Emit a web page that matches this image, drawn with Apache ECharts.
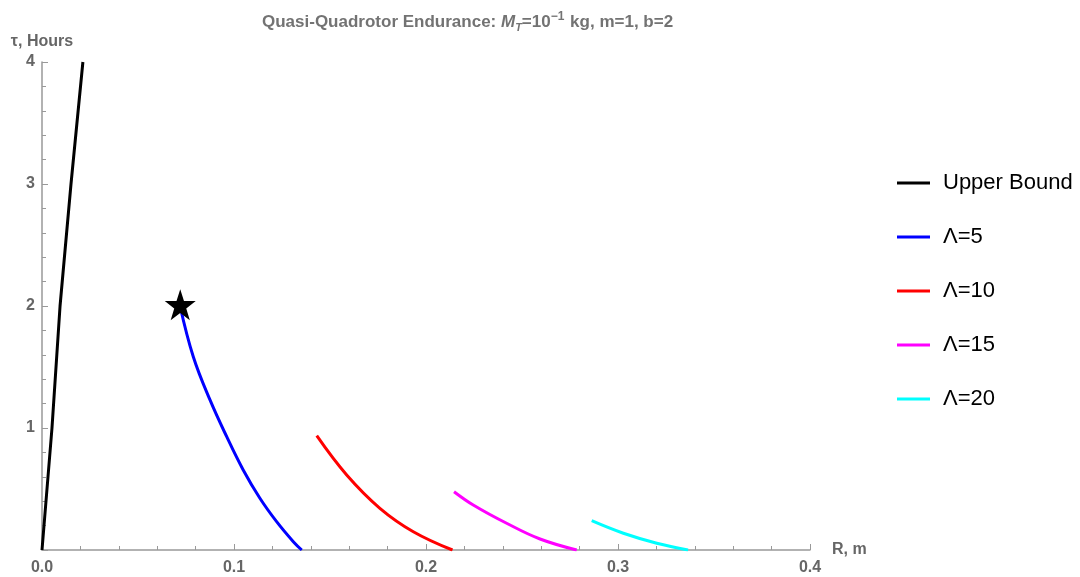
<!DOCTYPE html>
<html>
<head>
<meta charset="utf-8">
<script src="https://cdn.jsdelivr.net/npm/echarts@6/dist/echarts.min.js"></script>
<style>html,body{margin:0;padding:0;background:#fff}#c{width:1080px;height:577px}</style>
</head>
<body>
<div id="c"></div>
<script>
const seriesNames = ['Upper Bound', 'Λ=5', 'Λ=10', 'Λ=15', 'Λ=20'];
const upperX = [0, 0.0052, 0.0094, 0.0151, 0.0213];
const upperY = [0, 1, 2, 3, 4];
const l5X = [0.0719, 0.0788, 0.0875, 0.0962, 0.1048, 0.1135, 0.1222, 0.1309, 0.1353];
const l5Y = [2.0, 1.584, 1.230, 0.929, 0.656, 0.424, 0.232, 0.068, 0];
const l10X = [0.1431, 0.1587, 0.1760, 0.1934, 0.2138];
const l10Y = [0.937, 0.615, 0.342, 0.150, 0];
const l15X = [0.2146, 0.2246, 0.2420, 0.2594, 0.2785];
const l15Y = [0.478, 0.369, 0.219, 0.090, 0];
const l20X = [0.2863, 0.3028, 0.3202, 0.3365];
const l20Y = [0.240, 0.137, 0.055, 0];
const starX = [0.072];
const starY = [2.01];
const colors = ['#000000', '#0000ff', '#ff0000', '#ff00ff', '#00ffff'];

const zip = (xs, ys) => xs.map((x, i) => [x, ys[i]]);
const lines = [[upperX, upperY], [l5X, l5Y], [l10X, l10Y], [l15X, l15Y], [l20X, l20Y]];
const STAR = 'path://M50,0 L61.8,35.4 L99,35.4 L69,57.3 L80.3,92.7 L50,70.8 L19.7,92.7 L31,57.3 L1,35.4 L38.2,35.4 Z';

const FONT = 'Liberation Sans, Arial, sans-serif';
const axisColor = '#999';
const labelStyle = {color: '#666', fontWeight: 'bold', fontSize: 16, fontFamily: FONT};
const tc = '#737373';

const chart = echarts.init(document.getElementById('c'), null, {renderer: 'canvas'});
chart.setOption({
  animation: false,
  backgroundColor: '#fff',
  title: {
    left: 257, top: 6,
    text: '{b|Quasi-Quadrotor Endurance: }{i|M}{sub|T}{b|=10}{sup|−1}{b| kg, m=1, b=2}',
    textStyle: {
      rich: {
        b: {color: tc, fontWeight: 'bold', fontSize: 17, fontFamily: FONT},
        i: {color: tc, fontWeight: 'bold', fontStyle: 'italic', fontSize: 17, fontFamily: FONT},
        sub: {color: tc, fontWeight: 'bold', fontStyle: 'italic', fontSize: 11, fontFamily: FONT, verticalAlign: 'bottom', padding: [7, 0, 0, 0]},
        sup: {color: tc, fontWeight: 'bold', fontSize: 12, fontFamily: FONT, verticalAlign: 'top', padding: [0, 1, 10, 0]}
      }
    }
  },
  legend: {
    orient: 'vertical', left: 897, top: 172,
    itemWidth: 33, itemHeight: 3, itemGap: 32, padding: 0,
    icon: 'rect',
    data: seriesNames,
    textStyle: {color: '#000', fontSize: 22, fontFamily: FONT, padding: [0, 0, 0, 8]}
  },
  grid: {left: 42, right: 270, top: 62, bottom: 27, containLabel: false},
  xAxis: {
    type: 'value', min: 0, max: 0.4, interval: 0.1,
    name: 'R, m', nameLocation: 'end', nameGap: 22,
    nameTextStyle: Object.assign({padding: [0, 0, 4, 0]}, labelStyle),
    axisLine: {show: true, lineStyle: {color: axisColor, width: 1.5}},
    axisTick: {show: true, inside: true, length: 6, lineStyle: {color: axisColor}},
    minorTick: {show: true, splitNumber: 5, length: 4, lineStyle: {color: axisColor}},
    splitLine: {show: false},
    axisLabel: Object.assign({margin: 10, formatter: v => v.toFixed(1)}, labelStyle)
  },
  yAxis: {
    type: 'value', min: 0, max: 4, interval: 1,
    name: 'τ, Hours', nameLocation: 'end', nameGap: 12,
    nameTextStyle: Object.assign({align: 'center'}, labelStyle),
    axisLine: {show: true, lineStyle: {color: axisColor, width: 1.5}},
    axisTick: {show: true, inside: true, length: 6, lineStyle: {color: axisColor}},
    minorTick: {show: true, splitNumber: 5, length: 4, lineStyle: {color: axisColor}},
    splitLine: {show: false},
    axisLabel: Object.assign({margin: 7, formatter: v => (v === 0 ? '' : String(v))}, labelStyle)
  },
  series: lines.map((p, i) => ({
    name: seriesNames[i],
    type: 'line',
    data: zip(p[0], p[1]),
    smooth: i === 0 ? false : 0.4,
    symbol: 'none',
    color: colors[i],
    lineStyle: {color: colors[i], width: 3},
    z: 2
  })).concat([{
    name: 'star',
    type: 'scatter',
    data: zip(starX, starY),
    symbol: STAR,
    symbolSize: 31,
    itemStyle: {color: '#000', opacity: 1},
    z: 5
  }])
});
</script>
</body>
</html>
